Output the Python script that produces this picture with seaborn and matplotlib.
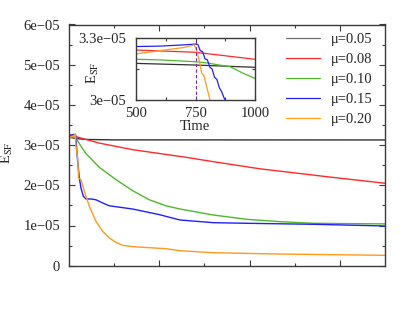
import numpy as np
import pandas as pd
import matplotlib
matplotlib.use("Agg")
import matplotlib.pyplot as plt
import seaborn as sns
from matplotlib.ticker import FixedLocator, NullFormatter
from matplotlib.lines import Line2D

# ---------------- data ----------------
labels = ["μ=0.05", "μ=0.08", "μ=0.10", "μ=0.15", "μ=0.20"]
colors = ["#303030", "#ff2a2a", "#4fb82a", "#2020ff", "#ff9a20"]

t_black = [0, 500, 750, 1000, 2000, 5000, 35000]
e_black = [3.20e-05, 3.178e-05, 3.17e-05, 3.159e-05, 3.14e-05, 3.13e-05, 3.128e-05]

t_red = [0, 500, 750, 1000, 3400, 7090, 12980, 15640, 21160, 28530, 35000]
e_red = [3.24e-05, 3.243e-05, 3.232e-05, 3.198e-05, 3.05e-05, 2.886e-05, 2.697e-05,
         2.60e-05, 2.41e-05, 2.214e-05, 2.05e-05]

t_green = [0, 500, 600, 750, 800, 850, 895, 950, 1000, 1380, 1930, 3400, 5250, 7090,
           8930, 10770, 12320, 16000, 19690, 23370, 27050, 30740, 35000]
e_green = [3.19e-05, 3.198e-05, 3.195e-05, 3.186e-05, 3.18e-05, 3.17e-05, 3.162e-05,
           3.13e-05, 3.105e-05, 2.97e-05, 2.79e-05, 2.448e-05, 2.14e-05, 1.866e-05,
           1.64e-05, 1.49e-05, 1.41e-05, 1.261e-05, 1.154e-05, 1.095e-05, 1.055e-05,
           1.047e-05, 1.04e-05]

t_blue = [0, 500, 600, 700, 750, 760, 770, 780, 790, 800, 810, 820, 830, 840, 850, 860,
          870, 880, 1010, 1200, 1380, 1640, 1930, 2490, 3040, 3780, 4510, 7090, 10040,
          12320, 16000, 19690, 27050, 35000]
e_blue = [3.24e-05, 3.26e-05, 3.262e-05, 3.268e-05, 3.272e-05, 3.27e-05, 3.24e-05,
          3.235e-05, 3.20e-05, 3.195e-05, 3.16e-05, 3.15e-05, 3.11e-05, 3.10e-05,
          3.06e-05, 3.04e-05, 3.01e-05, 2.99e-05, 2.60e-05, 2.18e-05, 1.93e-05,
          1.726e-05, 1.66e-05, 1.66e-05, 1.64e-05, 1.56e-05, 1.49e-05, 1.41e-05,
          1.27e-05, 1.137e-05, 1.07e-05, 1.055e-05, 1.03e-05, 0.988e-05]

t_orange = [0, 500, 600, 700, 745, 755, 762, 770, 776, 785, 797, 811, 1010, 1120, 1380,
            1750, 2300, 3040, 3780, 4510, 5250, 5990, 7090, 10770, 12320, 16000, 23370,
            35000]
e_orange = [3.20e-05, 3.224e-05, 3.24e-05, 3.255e-05, 3.268e-05, 3.24e-05, 3.21e-05,
            3.17e-05, 3.13e-05, 3.12e-05, 3.065e-05, 3.0e-05, 2.68e-05, 2.18e-05,
            2.14e-05, 1.85e-05, 1.48e-05, 1.10e-05, 0.855e-05, 0.69e-05, 0.58e-05,
            0.507e-05, 0.473e-05, 0.423e-05, 0.373e-05, 0.323e-05, 0.29e-05, 0.258e-05]

main_yticks = [0, 1e-05, 2e-05, 3e-05, 4e-05, 5e-05, 6e-05]
main_ytick_labels = ["0", "1e\u221205", "2e\u221205", "3e\u221205", "4e\u221205",
                     "5e\u221205", "6e\u221205"]
inset_xticks = [500, 750, 1000]
inset_yticks = [3e-05, 3.3e-05]
inset_ytick_labels = ["3e\u221205", "3.3e\u221205"]
marker_time = 750

series_t = [t_black, t_red, t_green, t_blue, t_orange]
series_e = [e_black, e_red, e_green, e_blue, e_orange]
frames = []
for lab, t, e in zip(labels, series_t, series_e):
    frames.append(pd.DataFrame({"Time": t, "E": e, "mu": lab}))
df = pd.concat(frames, ignore_index=True)
palette = dict(zip(labels, colors))

# ---------------- style ----------------
sns.set_style("ticks")
plt.rcParams["font.family"] = ["Liberation Serif", "DejaVu Serif"]
plt.rcParams["mathtext.fontset"] = "stix"
FS = 10.5
plt.rcParams["font.size"] = FS

fig = plt.figure(figsize=(4.15, 3.21), dpi=100)
W, H = 415, 321

def box(l, t, r, b):
    return [l / W, 1 - b / H, (r - l) / W, (b - t) / H]

spine_c = "#3a3a3a"

def style_axes(ax):
    for s in ax.spines.values():
        s.set_color(spine_c)
        s.set_linewidth(1.0)
    ax.tick_params(which="both", direction="in", top=True, right=True,
                   color=spine_c, width=0.8)
    ax.tick_params(which="major", length=4)
    ax.tick_params(which="minor", length=2.5)

# main axes
ax = fig.add_axes(box(68.5, 24.5, 385.3, 265.7))
sns.lineplot(data=df, x="Time", y="E", hue="mu", palette=palette, estimator=None,
             sort=False, lw=1.0, ax=ax, legend=False)
ax.set_xlim(0, 35000)
ax.set_ylim(0, 6e-05)
ax.xaxis.set_major_locator(FixedLocator([10000, 20000, 30000]))
ax.xaxis.set_minor_locator(FixedLocator([5000, 15000, 25000]))
ax.xaxis.set_major_formatter(NullFormatter())
ax.yaxis.set_major_locator(FixedLocator(main_yticks))
ax.yaxis.set_minor_locator(FixedLocator([0.5e-05 + k * 1e-05 for k in range(6)]))
ax.set_yticklabels(main_ytick_labels, fontsize=FS)
ax.set_xlabel("")
ax.set_ylabel("")
style_axes(ax)
ax.tick_params(axis="y", which="major", pad=6)
fig.text(7 / W, 1 - 153 / H, "E$_{\\rm SF}$", rotation=90, ha="center", va="center",
         fontsize=FS)

handles = [Line2D([0], [0], color=c, lw=0.9) for c in colors]
handles[0].set_color("#707070")
leg = fig.legend(handles, labels, loc="upper left", bbox_to_anchor=(286 / W, 1 - 33 / H),
                 frameon=False, fontsize=FS, handlelength=2.3, handletextpad=0.75,
                 labelspacing=0.47, borderpad=0, borderaxespad=0)

# inset
axi = fig.add_axes(box(136, 38.3, 255, 100))
sns.lineplot(data=df, x="Time", y="E", hue="mu", palette=palette, estimator=None,
             sort=False, lw=0.9, ax=axi, legend=False)
axi.axvline(marker_time, color="#7a2aa8", lw=0.8, ls=(0, (3, 2)))
axi.set_xlim(500, 1000)
axi.set_ylim(3e-05, 3.3e-05)
axi.xaxis.set_major_locator(FixedLocator(inset_xticks))
axi.xaxis.set_minor_locator(FixedLocator([625, 875]))
axi.yaxis.set_major_locator(FixedLocator(inset_yticks))
axi.yaxis.set_minor_locator(FixedLocator([3.15e-05]))
axi.set_yticklabels(inset_ytick_labels, fontsize=FS)
axi.set_xticklabels([str(v) for v in inset_xticks], fontsize=FS)
axi.set_xlabel("")
axi.set_ylabel("")
style_axes(axi)
axi.tick_params(which="major", length=3)
axi.tick_params(which="minor", length=2)
axi.tick_params(axis="y", pad=7)
axi.tick_params(axis="x", pad=5)
fig.text(195 / W, 1 - 127 / H, "Time", ha="center", va="center", fontsize=FS)
fig.text(93 / W, 1 - 73 / H, "E$_{\\rm SF}$", rotation=90, ha="center", va="center",
         fontsize=FS)

fig.savefig("out.png", dpi=100)
